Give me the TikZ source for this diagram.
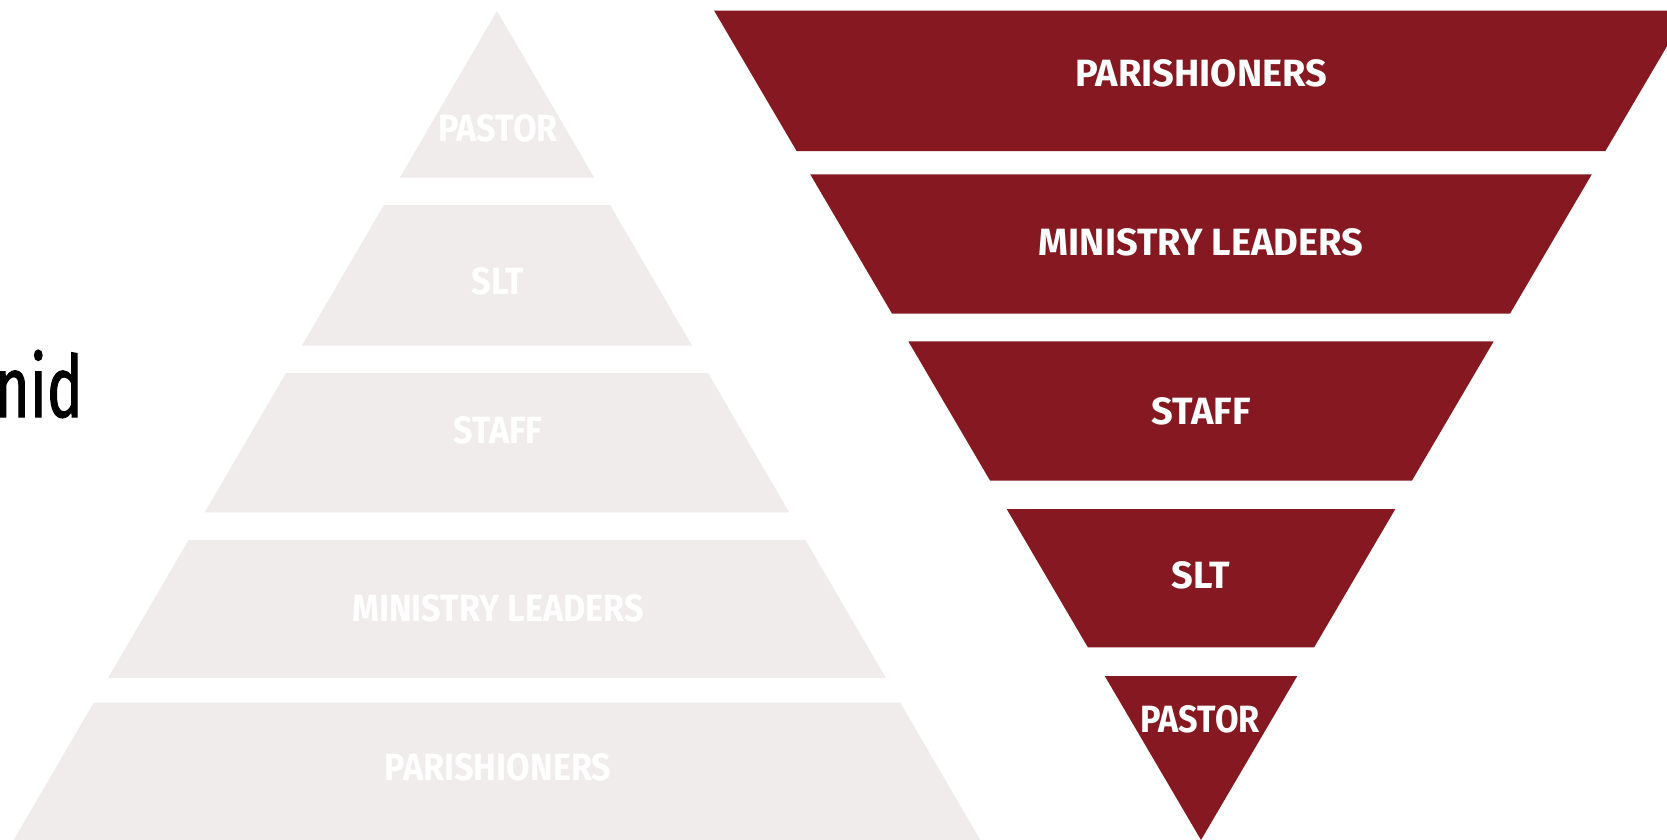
\documentclass[tikz,border=0pt]{standalone}
\usepackage{fontspec}
\setmainfont{Fira Sans}
\newfontfamily\tierfont[FakeStretch=0.9]{Fira Sans}
\newfontfamily\titlefont[FakeStretch=0.7,FakeBold=1.2]{Fira Sans}
\definecolor{pyrgrey}{HTML}{EFECEB}
\definecolor{pyrred}{HTML}{851820}
\tikzset{
  tierwide/.style={font=\bfseries\fontsize{38}{38}\selectfont, text=white, inner sep=0pt},
  tiernarrow/.style={font=\tierfont\bfseries\fontsize{38}{38}\selectfont, text=white, inner sep=0pt}
}
\begin{document}
\begin{tikzpicture}[x=1pt,y=-1pt]
  \useasboundingbox (0,0) rectangle (1667,840);

  % left: the classic pyramid
  \fill[pyrgrey] (497,11) -- (594.2,177.7) -- (399.8,177.7) -- cycle;
  \fill[pyrgrey] (383.9,205) -- (610.1,205) -- (692,345.5) -- (302,345.5) -- cycle;
  \fill[pyrgrey] (286,373) -- (708,373) -- (789.3,512.4) -- (204.7,512.4) -- cycle;
  \fill[pyrgrey] (188.6,540) -- (805.4,540) -- (885.9,678) -- (108.1,678) -- cycle;
  \fill[pyrgrey] (93.7,702.7) -- (900.3,702.7) -- (980.3,840) -- (13.7,840) -- cycle;

  \node[tiernarrow] (lpastor) at (498,128.5) {PASTOR};
  \node[tiernarrow] (lslt) at (498,281.7) {SLT};
  \node[tiernarrow] (lstaff) at (498,430.5) {STAFF};
  \node[tiernarrow] (lleaders) at (498,608) {MINISTRY LEADERS};
  \node[tiernarrow] (lparish) at (498,767.6) {PARISHIONERS};

  % right: the same pyramid turned over
  \fill[pyrred] (714.1,10.6) -- (1687.9,10.6) -- (1605.4,151) -- (796.6,151) -- cycle;
  \fill[pyrred] (810.2,174.3) -- (1591.8,174.3) -- (1510,313.6) -- (892,313.6) -- cycle;
  \fill[pyrred] (908.3,341.3) -- (1493.7,341.3) -- (1412,480.5) -- (990,480.5) -- cycle;
  \fill[pyrred] (1006.8,509.2) -- (1395.2,509.2) -- (1314.1,647.4) -- (1087.9,647.4) -- cycle;
  \fill[pyrred] (1104.8,676.1) -- (1297.2,676.1) -- (1201,840) -- cycle;

  \node[tierwide] (rparish) at (1201,73.7) {PARISHIONERS};
  \node[tierwide] (rleaders) at (1201,242.4) {MINISTRY LEADERS};
  \node[tierwide] (rstaff) at (1201,411.4) {STAFF};
  \node[tierwide] (rslt) at (1201,575) {SLT};
  \node[tiernarrow] (rpastor) at (1200,719.5) {PASTOR};

  \node[font=\titlefont\fontsize{86}{86}\selectfont, anchor=base east, inner sep=0pt] (title) at (83,417) {nid};
\end{tikzpicture}
\end{document}
